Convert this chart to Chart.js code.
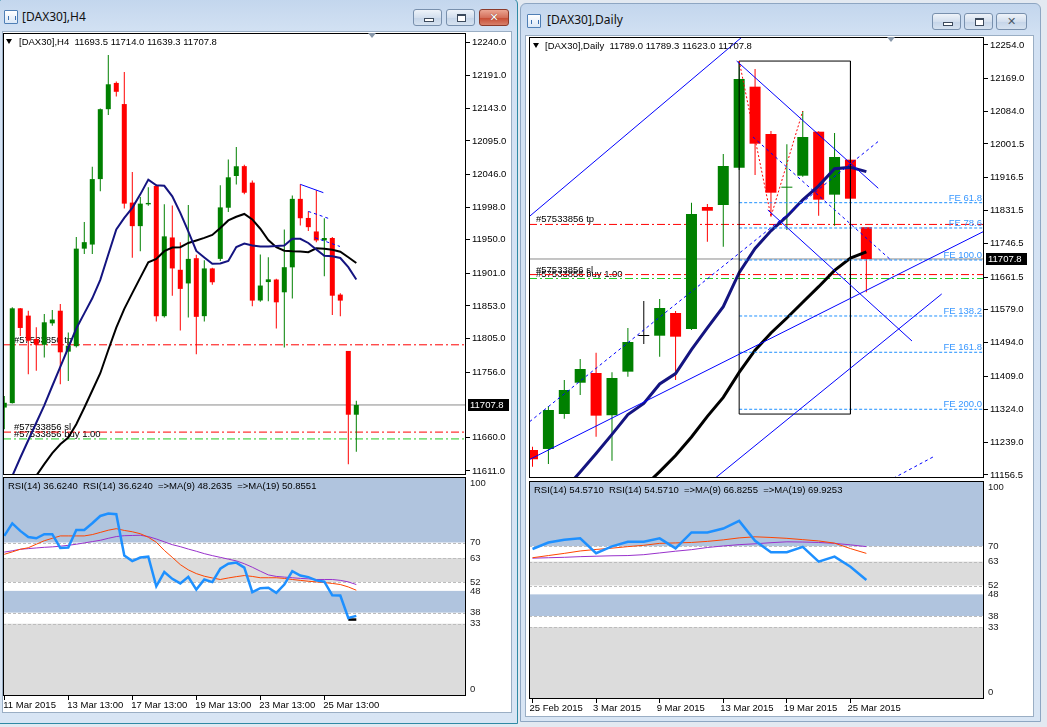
<!DOCTYPE html>
<html>
<head>
<meta charset="utf-8">
<script src="https://cdn.jsdelivr.net/npm/chart.js@4.4.1/dist/chart.umd.min.js"></script>
<style>
html, body { margin: 0; padding: 0; }
body { width: 1047px; height: 727px; position: relative; overflow: hidden; background: #e3e9f1; font-family: "Liberation Sans", Arial, sans-serif; }
.win { position: absolute; box-sizing: border-box; border: 1px solid #8ea6c2; border-radius: 6px 6px 0 0;
       background: linear-gradient(180deg, #c3d6ed 0, #d2e1f3 32px, #d8e5f4 100%); }
.win.active { border-color: #2f8aa5; }
.client { position: absolute; box-sizing: border-box; background: #fff; border: 1px solid #9aaec4; }
.title { position: absolute; font: 12px "Noto Sans", sans-serif; color: #111; white-space: pre; }
.icon { position: absolute; width: 12px; height: 12px; border: 1px solid #4f7fb5; background: linear-gradient(#ffffff, #dbe8f7); border-radius: 1px; }
.icon:after { content: ""; position: absolute; left: 3px; top: 5px; width: 6px; height: 4px; border-left: 1px solid #3b6fb0; border-right: 1px solid #3b6fb0; }
.btn { position: absolute; height: 17px; box-sizing: border-box; border: 1px solid #7890ad; border-radius: 3px;
       background: linear-gradient(#eef3f9, #d3dfee 50%, #c4d4e8 51%, #d6e2f0); }
.btn.red { background: linear-gradient(#eba592, #d4705b 50%, #c64a31 51%, #d8806a); border-color: #8c3b2b; }
.btn i { position: absolute; display: block; }
.gmin { left: 10px; top: 8px; width: 8px; height: 2px; border: 1px solid #3c4a5c; background: #fff; }
.grest { left: 10px; top: 4px; width: 7px; height: 5px; border: 1px solid #3c4a5c; border-top-width: 2px; background: #fff; }
.gx { left: 0; top: 0; width: 100%; text-align: center; font: bold 11px "DejaVu Sans", sans-serif; line-height: 15px; color: #fff; text-shadow: 0 0 1px #5a2015; }
.gx.dim { color: #4a5868; text-shadow: none; }
.hdr { position: absolute; font-size: 9.5px; line-height: 11px; color: #000; white-space: pre; }
.tri { position: absolute; width: 0; height: 0; border-left: 3.5px solid transparent; border-right: 3.5px solid transparent; border-top: 5px solid #000; }
.shift { position: absolute; width: 0; height: 0; border-left: 4px solid transparent; border-right: 4px solid transparent; border-top: 5px solid #8797aa; }
canvas { position: absolute; }
</style>
</head>
<body>

<!-- left window: H4 -->
<div class="win active" style="left:-2px;top:-2px;width:520px;height:726px"></div>
<div class="icon" style="left:4px;top:10px"></div>
<div class="title" style="left:22px;top:8px">[DAX30],H4</div>
<div class="btn" style="left:413px;top:9px;width:29px"><i class="gmin"></i></div>
<div class="btn" style="left:446px;top:9px;width:29px"><i class="grest"></i></div>
<div class="btn red" style="left:479px;top:9px;width:30px"><i class="gx">✕</i></div>
<div class="client" style="left:2px;top:31px;width:510px;height:682px"></div>

<!-- right window: Daily -->
<div class="win" style="left:520px;top:3px;width:521px;height:719px"></div>
<div class="icon" style="left:527px;top:14px"></div>
<div class="title" style="left:547px;top:11px">[DAX30],Daily</div>
<div class="btn" style="left:932px;top:13px;width:29px"><i class="gmin"></i></div>
<div class="btn" style="left:964px;top:13px;width:29px"><i class="grest"></i></div>
<div class="btn" style="left:996px;top:13px;width:31px"><i class="gx dim">✕</i></div>
<div class="client" style="left:525px;top:35px;width:509px;height:682px"></div>

<canvas id="h4Price" width="509" height="445" style="left:3px;top:33px;width:509px;height:445px"></canvas>
<canvas id="h4Rsi" width="509" height="240" style="left:3px;top:476px;width:509px;height:240px"></canvas>
<canvas id="d1Price" width="503" height="444" style="left:529px;top:37px;width:503px;height:444px"></canvas>
<canvas id="d1Rsi" width="503" height="240" style="left:529px;top:479px;width:503px;height:240px"></canvas>

<div class="tri" style="left:6px;top:39px"></div>
<div class="hdr" style="left:19px;top:36px">[DAX30],H4  11693.5 11714.0 11639.3 11707.8</div>
<div class="shift" style="left:368px;top:33px"></div>
<div class="hdr" style="left:8px;top:480px">RSI(14) 36.6240  RSI(14) 36.6240  =&gt;MA(9) 48.2635  =&gt;MA(19) 50.8551</div>

<div class="tri" style="left:533px;top:43px"></div>
<div class="hdr" style="left:545px;top:40px">[DAX30],Daily  11789.0 11789.3 11623.0 11707.8</div>
<div class="shift" style="left:887px;top:37px"></div>
<div class="hdr" style="left:534px;top:484px">RSI(14) 54.5710  RSI(14) 54.5710  =&gt;MA(9) 66.8255  =&gt;MA(19) 69.9253</div>

<script>
// ---------- H4 window (one value per bar, oldest first) ----------
const h4Open  = [11704, 11710.5, 11849.5, 11838.8, 11804.5, 11796, 11827.5, 11846, 11786, 11794, 11937, 11943, 12039, 12141.5, 12180, 12149, 12004.5, 11970, 12002, 12029, 11838, 11953.4, 11906, 11886, 11923, 11838, 11908, 11922, 11997, 12043.5, 12058, 12033.8, 11861, 11888, 11891.7, 11873, 11909.6, 12010, 11982, 11962.2, 11949, 11952.6, 11869.6, 11787, 11693.5];
const h4High  = [11721, 11851, 11850, 11846, 11821.6, 11841, 11847, 11856, 11814, 11954, 11976, 12057, 12142.5, 12221, 12182, 12196, 12049.4, 12012.6, 12027, 12031, 12002, 12000.4, 11946.5, 12001, 11928, 11920, 11909, 12030, 12067.6, 12086, 12060, 12037, 11928.4, 11924.5, 11893, 11965, 12015, 12031.3, 11991.6, 12022.5, 11981.6, 11954, 11871.5, 11787, 11714];
const h4Low   = [11672, 11710, 11809, 11753, 11758, 11777.5, 11824, 11738, 11743, 11792, 11929, 11929, 12021, 12133, 12160, 11996, 11923.6, 11933, 12000, 11830, 11836, 11868, 11817, 11836, 11782, 11830, 11884, 11919, 11990.6, 12031, 12016.6, 11852.4, 11859, 11859.7, 11820, 11792, 11864, 11971, 11962.7, 11946.5, 11896.5, 11839.8, 11837.7, 11620.8, 11639.3];
const h4Close = [11711, 11849.5, 11820.7, 11802, 11796, 11829, 11833, 11785, 11794.7, 11937, 11946.5, 12039, 12141.5, 12178, 12167, 12003, 11970, 12003, 12004, 11838, 11955, 11908, 11878, 11922, 11837, 11908, 11887.7, 11997.5, 12041.6, 12057.8, 12019, 11860.8, 11882.9, 11892, 11858.3, 11909.8, 12010, 11981.6, 11968.5, 11949, 11952.6, 11868, 11860.8, 11693.5, 11707.8];
const h4MaFast = [11575, 11603.6, 11630.4, 11656.1, 11681.7, 11707.2, 11735.6, 11763.8, 11791.7, 11820, 11842.1, 11864.2, 11891.2, 11928.4, 11965.2, 11982.1, 11996.8, 12016.6, 12038.2, 12029.8, 12029.1, 12013.7, 11989.4, 11962.2, 11933.6, 11924, 11914.8, 11915.2, 11918.9, 11939.4, 11944.6, 11941.6, 11940.2, 11940.2, 11940.9, 11941.6, 11951.5, 11951.5, 11945.3, 11935.7, 11926.5, 11925.8, 11923.3, 11909.8, 11891.7];
const h4MaSlow = [null, null, null, 11588, 11604, 11621, 11637.1, 11650.2, 11659.9, 11679.6, 11703.7, 11729, 11754.3, 11788.4, 11821.1, 11848.8, 11871.8, 11894.5, 11917.1, 11921.8, 11933.3, 11938.6, 11939.2, 11945.3, 11949, 11952.8, 11957.1, 11967.4, 11978.4, 11983.8, 11987.9, 11979.9, 11966.2, 11949.7, 11939.2, 11934, 11933.1, 11932.7, 11931.8, 11937.5, 11936.8, 11935.3, 11932.4, 11924.4, 11915.9];
const h4Rsi     = [73.1, 78.8, 75.4, 72.6, 72.0, 73.9, 73.9, 67.6, 67.8, 75.8, 75.8, 78.9, 82.2, 83.3, 83.0, 64.2, 61.6, 63.2, 63.6, 50.1, 56.6, 53.5, 51.4, 54.4, 48.6, 53.2, 52.0, 58.1, 60.4, 60.9, 58.6, 47.4, 49.2, 49.4, 47.1, 50.9, 57.0, 55.0, 54.3, 52.8, 52.2, 46.0, 45.9, 35.6, 36.6];
const h4RsiMa9  = [64.7, 65.8, 67.0, 67.7, 69.3, 70.9, 72.0, 73.1, 73.1, 73.1, 73.1, 73.7, 74.7, 75.7, 76.4, 75.6, 75.0, 74.1, 72.5, 70.2, 66.5, 63.3, 60.0, 57.6, 55.9, 54.7, 53.9, 53.2, 53.9, 54.5, 55.0, 54.6, 54.0, 54.0, 54.0, 53.7, 53.2, 52.8, 52.4, 52.1, 51.8, 51.4, 50.9, 49.8, 48.3];
const h4RsiMa19 = [65.7, 66.3, 67.0, 67.3, 67.6, 67.9, 68.1, 68.4, 68.8, 69.3, 69.9, 70.5, 71.1, 72.0, 72.8, 73.2, 73.3, 73.4, 72.8, 71.7, 70.4, 69.1, 68.2, 67.1, 66.1, 65.0, 64.1, 63.3, 62.5, 61.7, 60.4, 58.8, 57.0, 55.3, 54.6, 54.3, 54.0, 53.7, 53.5, 53.2, 53.2, 53.2, 52.8, 52.1, 50.9];
const h4RsiTail = [{ x: 43, y: 34.9 }, { x: 44, y: 34.9 }];
const h4TickBars   = [0, 8, 16, 24, 32, 40];
const h4TickLabels = ['11 Mar 2015', '13 Mar 13:00', '17 Mar 13:00', '19 Mar 13:00', '23 Mar 13:00', '25 Mar 13:00'];
const h4PriceTicks = [12240, 12191, 12143, 12095, 12046, 11998, 11950, 11901, 11853, 11805, 11756, 11660, 11611];
// small trend lines drawn on the H4 chart: [bar, price] anchors
const h4Trend      = [[{ x: 37, y: 12031.3 }, { x: 39.88, y: 12019.1 }]];
const h4TrendDash  = [[{ x: 38, y: 11991.6 }, { x: 40.63, y: 11980.9 }], [{ x: 38.84, y: 11953 }, { x: 41.96, y: 11940.2 }]];

// ---------- Daily window ----------
const d1Open  = [11220.3, 11222.9, 11312.2, 11392, 11416.8, 11309, 11420.2, 11511.3, 11512, 11570, 11529.1, 11840.5, 11845.6, 11940.8, 12147.6, 12026.8, 11889.8, 11920.4, 12032.7, 11872, 11961.3, 11789];
const d1High  = [11228.7, 11332.6, 11399, 11452.6, 11468.7, 11418.6, 11531.7, 11600.6, 11605.7, 11575, 11851.5, 11848, 11975.8, 12213, 12192.7, 12034.5, 12000.8, 12085.5, 12034, 12029.4, 11965, 11789.3];
const d1Low   = [11177.7, 11184.6, 11300.2, 11360.7, 11254.3, 11193, 11407.4, 11490.7, 11458.4, 11399, 11526.5, 11752, 11739.2, 11935, 11922.2, 11815.8, 11781.8, 11918, 11818.3, 11792.8, 11855, 11623];
const d1Close = [11196.6, 11322.4, 11373.4, 11427, 11307.9, 11404, 11496, 11511.3, 11582.7, 11509.5, 11822.7, 11831, 11945.2, 12167.2, 12002.1, 11877, 11892, 12019.2, 11859.2, 11968.1, 11861.7, 11707.8];
const d1MaFast = [null, null, 11118.2, 11164.2, 11211.4, 11260.1, 11310.9, 11339, 11388.8, 11415.3, 11476.3, 11531.7, 11586.1, 11672.8, 11734.6, 11779.8, 11816.3, 11858.9, 11894.4, 11938.3, 11941.6, 11930.9];
const d1MaSlow = [null, null, null, null, null, null, null, 11126, 11165.2, 11206, 11253.5, 11306.1, 11354.5, 11418.4, 11475, 11518.9, 11557.2, 11597.5, 11637.1, 11678.7, 11710.1, 11726.2];
const d1Rsi     = [68.8, 71.8, 73.0, 73.7, 66.9, 70.0, 72.1, 72.1, 73.7, 69.1, 76.4, 76.4, 78.2, 81.7, 72.6, 67.3, 67.3, 69.8, 63.0, 65.3, 60.7, 54.6];
const d1RsiMa9  = [64.8, 65.8, 66.8, 67.9, 68.6, 69.2, 69.9, 70.5, 71.4, 71.6, 71.8, 72.3, 73.0, 73.9, 74.4, 74.1, 73.7, 73.1, 72.5, 71.5, 69.0, 66.8];
const d1RsiMa19 = [64.6, 64.8, 65.0, 65.3, 65.5, 65.7, 65.8, 66.2, 67.0, 67.8, 68.5, 69.5, 70.2, 70.8, 71.2, 71.7, 72.1, 72.0, 71.8, 71.4, 70.7, 69.9];
const d1TickBars   = [0, 4, 8, 12, 16, 20];
const d1TickLabels = ['25 Feb 2015', '3 Mar 2015', '9 Mar 2015', '13 Mar 2015', '19 Mar 2015', '25 Mar 2015'];
const d1PriceTicks = [12254, 12169, 12084, 12001.5, 11916.5, 11831.5, 11746.5, 11661.5, 11579, 11494, 11409, 11324, 11239, 11156.5];
const d1Trend = [
  [{ x: -0.16, y: 11817.6 }, { x: 13.18, y: 12274.4 }],
  [{ x: -0.16, y: 11196.6 }, { x: 28.35, y: 11777.5 }],
  [{ x: 11.48, y: 11148.1 }, { x: 25.74, y: 11618.5 }],
  [{ x: 12.84, y: 12213.2 }, { x: 21.75, y: 11888.3 }],
  [{ x: 14.8, y: 11832.9 }, { x: 23.87, y: 11498.5 }]
];
const d1TrendDash = [
  [{ x: -0.18, y: 11292.5 }, { x: 21.86, y: 12011.5 }],
  [{ x: 13.87, y: 12019.2 }, { x: 22.61, y: 11702.7 }],
  [{ x: 22.69, y: 11148 }, { x: 25.31, y: 11205 }]
];
const d1Zigzag = [{ x: 13, y: 12213 }, { x: 15, y: 11816 }, { x: 17, y: 12085.5 }];
const d1Box    = [{ x: 13, y: 12213 }, { x: 20, y: 12213 }, { x: 20, y: 11312 }, { x: 13, y: 11312 }, { x: 13, y: 12213 }];
const feStartBar = 13;
const feLabels = ['FE 61.8', 'FE 78.6', 'FE 100.0', 'FE 138.2', 'FE 161.8', 'FE 200.0'];
const feValues = [11851.5, 11786.9, 11705.2, 11562.3, 11469.7, 11324.2];

// ---------- order levels (both windows) ----------
const orderLabel = '#57533856';
const takeProfit = 11796;
const stopLoss   = 11668;
const openPrice  = 11658;

// ---------- RSI pane levels ----------
const rsiLevels = [0, 33, 38, 48, 52, 63, 70, 100];
const rsiDashed = [70, 63, 52, 38, 33];

// ======================================================================
const FONT_CSS = '9.5px "Liberation Sans", Arial, sans-serif';
Chart.defaults.font.family = '"Liberation Sans", Arial, sans-serif';
Chart.defaults.font.size = 9.5;
Chart.defaults.color = '#000';

const overlays = {};

const mt4Plugin = {
  id: 'mt4',
  beforeDatasetsDraw(chart) {
    const o = overlays[chart.canvas.id];
    if (!o) return;
    const { ctx, chartArea: a } = chart;
    const y = chart.scales.y;
    ctx.save();
    if (o.zones) {
      o.zones.forEach(([hi, lo, color]) => {
        const t = y.getPixelForValue(hi);
        const b = y.getPixelForValue(lo);
        ctx.fillStyle = color;
        ctx.fillRect(a.left, t, a.width, b - t);
      });
      ctx.strokeStyle = '#bcbcbc';
      ctx.lineWidth = 1;
      ctx.setLineDash([3, 2]);
      o.dashed.forEach(v => {
        const p = Math.round(y.getPixelForValue(v)) + 0.5;
        ctx.beginPath();
        ctx.moveTo(a.left, p);
        ctx.lineTo(a.right, p);
        ctx.stroke();
      });
    }
    if (o.notes) {
      ctx.font = FONT_CSS;
      ctx.fillStyle = '#000';
      o.notes.forEach(n => ctx.fillText(n.text, a.left + o.noteX, y.getPixelForValue(n.value) - 2));
    }
    ctx.restore();
  },
  afterDatasetsDraw(chart) {
    const o = overlays[chart.canvas.id];
    if (!o || !o.fe) return;
    const { ctx, chartArea: a } = chart;
    const y = chart.scales.y;
    ctx.save();
    ctx.font = FONT_CSS;
    ctx.fillStyle = '#3a98ff';
    ctx.textAlign = 'right';
    o.fe.labels.forEach((t, i) => ctx.fillText(t, a.right - 2, y.getPixelForValue(o.fe.values[i]) - 2));
    ctx.restore();
  },
  afterDraw(chart) {
    const o = overlays[chart.canvas.id];
    if (!o) return;
    const { ctx, chartArea: a } = chart;
    const y = chart.scales.y;
    ctx.save();
    ctx.strokeStyle = '#000';
    ctx.lineWidth = 1;
    ctx.strokeRect(Math.round(a.left) + 0.5, Math.round(a.top) + 0.5, Math.round(a.width) - 1, Math.round(a.height) - 1);
    ctx.font = FONT_CSS;
    if (o.tag !== undefined) {
      const p = y.getPixelForValue(o.tag);
      ctx.fillStyle = '#000';
      ctx.fillRect(a.right + 2, Math.round(p) - 6, 41, 12);
      ctx.fillStyle = '#fff';
      ctx.textBaseline = 'middle';
      ctx.fillText(o.tag.toFixed(1), a.right + 4, p + 0.5);
    }
    if (o.levels) {
      ctx.fillStyle = '#1a1a1a';
      ctx.textBaseline = 'middle';
      o.levels.forEach(v => {
        const p = Math.min(Math.max(y.getPixelForValue(v), a.top + 6), a.bottom - 7);
        ctx.fillText(String(v), a.right + 4, p);
      });
    }
    ctx.restore();
  }
};
Chart.register(mt4Plugin);

function barIndex(n) { return Array.from({ length: n }, (_, i) => i); }
function candleColor(o, c) { return c > o ? '#008000' : (c < o ? '#ff0000' : '#000000'); }

function segment(points, color, dash, width, order) {
  return { type: 'line', data: points, borderColor: color, borderWidth: width || 1, borderDash: dash || [],
           pointRadius: 0, tension: 0, fill: false, order: order || 1, clip: 0 };
}

function priceChart(id, s) {
  const n = s.open.length;
  const colors = s.open.map((o, i) => candleColor(o, s.close[i]));
  const datasets = [
    segment([{ x: s.xMin, y: s.tp }, { x: s.xMax, y: s.tp }], '#ff0000', [8, 3, 2, 3], 1, 30),
    segment([{ x: s.xMin, y: s.sl }, { x: s.xMax, y: s.sl }], '#ff0000', [8, 3, 2, 3], 1, 30),
    segment([{ x: s.xMin, y: s.entry }, { x: s.xMax, y: s.entry }], '#22cc22', [8, 3, 2, 3], 1, 30),
    segment([{ x: s.xMin, y: s.last }, { x: s.xMax, y: s.last }], '#8a8a8a', [], 1, 30),
    { type: 'bar', data: s.low.map((l, i) => [l, s.high[i]]), backgroundColor: colors, maxBarThickness: 1,
      grouped: false, borderWidth: 0, order: 20, clip: 0 },
    { type: 'bar', data: s.open.map((o, i) => [o, s.close[i]]), backgroundColor: colors, maxBarThickness: s.body,
      grouped: false, borderWidth: 0, minBarLength: 1, order: 19, clip: 0 },
    { type: 'line', data: s.maSlow, borderColor: '#000000', borderWidth: s.maWidth, pointRadius: 0, tension: 0, order: 10, clip: 0 },
    { type: 'line', data: s.maFast, borderColor: '#141480', borderWidth: s.maWidth, pointRadius: 0, tension: 0, order: 9, clip: 0 }
  ].concat(s.extra);

  overlays[id] = {
    tag: s.last,
    noteX: s.noteX,
    notes: [
      { text: orderLabel + ' tp', value: s.tp },
      { text: orderLabel + ' sl', value: s.sl },
      { text: orderLabel + ' buy 1.00', value: s.entry }
    ],
    fe: s.fe
  };

  return new Chart(document.getElementById(id), {
    type: 'bar',
    data: { labels: barIndex(n), datasets },
    options: {
      responsive: false, animation: false, events: [],
      layout: { padding: { top: 0, bottom: 3, left: 0, right: 0 } },
      plugins: { legend: { display: false }, tooltip: { enabled: false } },
      scales: {
        x: { type: 'linear', min: s.xMin, max: s.xMax, offset: false, display: false },
        y: {
          position: 'right', min: s.yMin, max: s.yMax,
          afterBuildTicks: sc => { sc.ticks = s.ticks.map(v => ({ value: v })); },
          afterFit: sc => { sc.width = s.axisW; sc.paddingTop = 0; sc.paddingBottom = 0; },
          grid: { drawOnChartArea: false, drawTicks: true, tickLength: 4, color: '#000' },
          border: { display: false },
          ticks: { padding: 2, autoSkip: false, callback: v => Number(v).toFixed(1) }
        }
      }
    }
  });
}

function rsiChart(id, s) {
  const n = s.rsi.length;
  overlays[id] = {
    zones: [[100, 70, '#b0c4de'], [70, 63, '#ffffff'], [63, 52, '#dcdcdc'], [52, 48, '#ffffff'],
            [48, 38, '#b0c4de'], [38, 33, '#ffffff'], [33, 0, '#dcdcdc']],
    dashed: rsiDashed,
    levels: rsiLevels
  };
  const datasets = [
    { type: 'line', data: s.ma19, borderColor: '#9932cc', borderWidth: 1, pointRadius: 0, tension: 0, order: 3, clip: 0 },
    { type: 'line', data: s.ma9, borderColor: '#ff4500', borderWidth: 1, pointRadius: 0, tension: 0, order: 2, clip: 0 },
    { type: 'line', data: s.rsi, borderColor: '#1e90ff', borderWidth: 2.5, pointRadius: 0, tension: 0, order: 1, clip: 0 }
  ].concat(s.extra || []);

  return new Chart(document.getElementById(id), {
    type: 'line',
    data: { labels: barIndex(n), datasets },
    options: {
      responsive: false, animation: false, events: [],
      layout: { padding: { top: s.padTop, bottom: 0, left: 0, right: 0 } },
      plugins: { legend: { display: false }, tooltip: { enabled: false } },
      scales: {
        x: {
          type: 'linear', min: s.xMin, max: s.xMax, offset: false,
          afterBuildTicks: sc => { sc.ticks = s.tickBars.map(v => ({ value: v })); },
          afterFit: sc => { sc.height = 20; sc.paddingLeft = 0; sc.paddingRight = 0; },
          grid: { drawOnChartArea: false, drawTicks: true, tickLength: 4, color: '#000' },
          border: { display: false },
          ticks: { align: 'start', maxRotation: 0, autoSkip: false, padding: 0, labelOffset: s.labelShift,
                   callback: (v, i) => s.tickLabels[i] }
        },
        y: {
          position: 'right', min: 0, max: 100,
          afterFit: sc => { sc.width = s.axisW; sc.paddingTop = 0; sc.paddingBottom = 0; },
          grid: { display: false }, border: { display: false }, ticks: { display: false }
        }
      }
    }
  });
}

// H4
priceChart('h4Price', {
  open: h4Open, high: h4High, low: h4Low, close: h4Close,
  maFast: h4MaFast, maSlow: h4MaSlow, maWidth: 2, body: 5,
  xMin: -0.16, xMax: 57.71, yMin: 11605.1, yMax: 12253.2, ticks: h4PriceTicks, axisW: 46,
  tp: takeProfit, sl: stopLoss, entry: openPrice, last: h4Close[h4Close.length - 1], noteX: 11,
  extra: h4Trend.map(p => segment(p, '#0000ff', [], 1, 1))
    .concat(h4TrendDash.map(p => segment(p, '#0000ff', [3, 3], 1, 1)))
});
rsiChart('h4Rsi', {
  rsi: h4Rsi, ma9: h4RsiMa9, ma19: h4RsiMa19, xMin: -0.16, xMax: 57.71, axisW: 46, padTop: 1,
  tickBars: h4TickBars, tickLabels: h4TickLabels, labelShift: -1,
  extra: [segment(h4RsiTail, '#000000', [], 2.5, 0)]
});

// Daily
priceChart('d1Price', {
  open: d1Open, high: d1High, low: d1Low, close: d1Close,
  maFast: d1MaFast, maSlow: d1MaSlow, maWidth: 3, body: 11,
  xMin: -0.22, xMax: 28.4, yMin: 11148.8, yMax: 12274.4, ticks: d1PriceTicks, axisW: 48,
  tp: takeProfit, sl: stopLoss, entry: openPrice, last: d1Close[d1Close.length - 1], noteX: 7,
  fe: { labels: feLabels, values: feValues },
  extra: d1Trend.map(p => segment(p, '#0000ff', [], 1, 1))
    .concat(d1TrendDash.map(p => segment(p, '#0000ff', [3, 3], 1, 1)))
    .concat([segment(d1Zigzag, '#ff0000', [2, 2], 1, 1), segment(d1Box, '#000000', [], 1, 1)])
    .concat(feValues.map(v => segment([{ x: feStartBar, y: v }, { x: 28.4, y: v }], '#1e90ff', [3, 2], 1, 2)))
});
rsiChart('d1Rsi', {
  rsi: d1Rsi, ma9: d1RsiMa9, ma19: d1RsiMa19, xMin: -0.22, xMax: 28.4, axisW: 48, padTop: 2,
  tickBars: d1TickBars, tickLabels: d1TickLabels, labelShift: -3
});
</script>
</body>
</html>
